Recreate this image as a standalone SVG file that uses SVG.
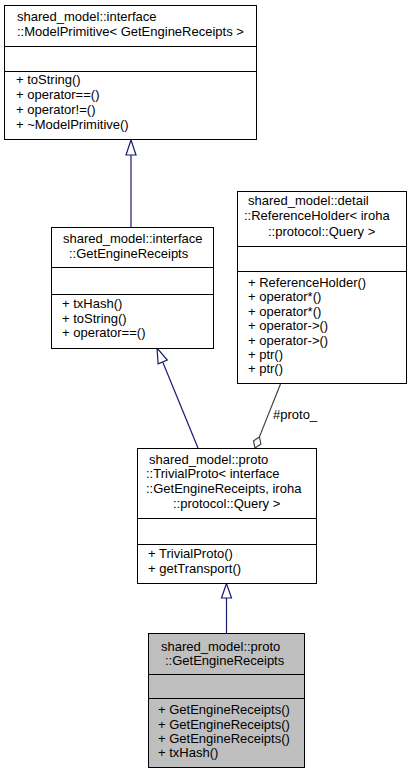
<svg xmlns="http://www.w3.org/2000/svg" width="411" height="775" viewBox="0 0 411 775">
<style>
text{font-family:"Liberation Sans",Arial,Helvetica,sans-serif;font-size:13px;fill:#000}
.box{fill:#fff;stroke:#000;stroke-width:1}
.cur{fill:#bfbfbf;stroke:#000;stroke-width:1}
.div{stroke:#000;stroke-width:1}
.inh{stroke:#191970;stroke-width:1.2;fill:none}
.inhh{stroke:#191970;stroke-width:1.2;fill:#fff}
.agg{stroke:#404040;stroke-width:1.2;fill:none}
.aggh{stroke:#404040;stroke-width:1.2;fill:#fff}
</style>
<rect width="411" height="775" fill="#fff"/>
<g id="connectors">
<line class="inh" x1="131" y1="155" x2="131" y2="227"/>
<polygon class="inhh" points="131,140 126,155 136,155"/>
<line class="inh" x1="198" y1="448" x2="162.7" y2="361.9"/>
<polygon class="inhh" points="157,348 158.1,363.8 167.3,360"/>
<line class="agg" x1="280.5" y1="384" x2="259.4" y2="436.9"/>
<polygon class="aggh" points="255,448 260.9,443.9 259.4,436.9 253.5,440.9"/>
<text x="273" y="419">#proto_</text>
<line class="inh" x1="226.5" y1="598" x2="226.5" y2="633"/>
<polygon class="inhh" points="226.5,583.5 221.5,598 231.5,598"/>
</g>
<g id="node_ModelPrimitive">
<rect class="box" x="4.5" y="5.5" width="252" height="134"/>
<line class="div" x1="4.5" y1="46.5" x2="256.5" y2="46.5"/>
<line class="div" x1="4.5" y1="71.5" x2="256.5" y2="71.5"/>
<text x="17" y="21">shared_model::interface</text>
<text x="17" y="36">::ModelPrimitive&lt; GetEngineReceipts &gt;</text>
<text x="16" y="84">+ toString()</text>
<text x="16" y="99">+ operator==()</text>
<text x="16" y="114">+ operator!=()</text>
<text x="16" y="129">+ ~ModelPrimitive()</text>
</g>
<g id="node_IGetEngineReceipts">
<rect class="box" x="51.5" y="227.5" width="162" height="121"/>
<line class="div" x1="51.5" y1="267.5" x2="213.5" y2="267.5"/>
<line class="div" x1="51.5" y1="294.5" x2="213.5" y2="294.5"/>
<text x="63" y="243">shared_model::interface</text>
<text x="69" y="258">::GetEngineReceipts</text>
<text x="62" y="308">+ txHash()</text>
<text x="62" y="323">+ toString()</text>
<text x="62" y="337">+ operator==()</text>
</g>
<g id="node_ReferenceHolder">
<rect class="box" x="237.5" y="191.5" width="169" height="192"/>
<line class="div" x1="237.5" y1="246.5" x2="406.5" y2="246.5"/>
<line class="div" x1="237.5" y1="271.5" x2="406.5" y2="271.5"/>
<text x="248" y="205">shared_model::detail</text>
<text x="244" y="220">::ReferenceHolder&lt; iroha</text>
<text x="268" y="236">::protocol::Query &gt;</text>
<text x="248" y="287">+ ReferenceHolder()</text>
<text x="248" y="301">+ operator*()</text>
<text x="248" y="316">+ operator*()</text>
<text x="248" y="330">+ operator-&gt;()</text>
<text x="248" y="345">+ operator-&gt;()</text>
<text x="248" y="359">+ ptr()</text>
<text x="248" y="373">+ ptr()</text>
</g>
<g id="node_TrivialProto">
<rect class="box" x="137.5" y="448.5" width="179" height="135"/>
<line class="div" x1="137.5" y1="518.5" x2="316.5" y2="518.5"/>
<line class="div" x1="137.5" y1="544.5" x2="316.5" y2="544.5"/>
<text x="149" y="464">shared_model::proto</text>
<text x="146" y="478">::TrivialProto&lt; interface</text>
<text x="146" y="493">::GetEngineReceipts, iroha</text>
<text x="173" y="508">::protocol::Query &gt;</text>
<text x="148" y="558">+ TrivialProto()</text>
<text x="148" y="573">+ getTransport()</text>
</g>
<g id="node_ProtoGetEngineReceipts">
<rect class="cur" x="148.5" y="633.5" width="156" height="134"/>
<line class="div" x1="148.5" y1="674.5" x2="304.5" y2="674.5"/>
<line class="div" x1="148.5" y1="698.5" x2="304.5" y2="698.5"/>
<text x="161" y="651">shared_model::proto</text>
<text x="165" y="665">::GetEngineReceipts</text>
<text x="158" y="714">+ GetEngineReceipts()</text>
<text x="158" y="729">+ GetEngineReceipts()</text>
<text x="158" y="743">+ GetEngineReceipts()</text>
<text x="158" y="757">+ txHash()</text>
</g>
</svg>
